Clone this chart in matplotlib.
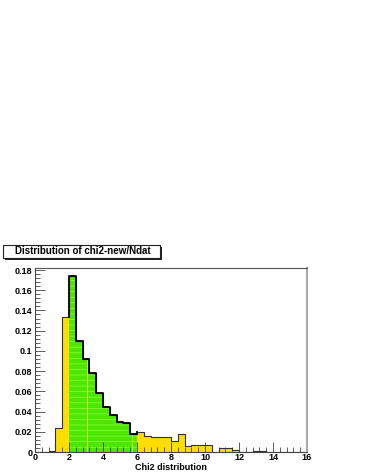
import numpy as np
import matplotlib.pyplot as plt
from matplotlib.ticker import MultipleLocator

plt.rcParams['font.family'] = ['Liberation Sans', 'DejaVu Sans']
plt.rcParams['hatch.linewidth'] = 0.5
plt.rcParams['hatch.color'] = '#8cff3c'

# bin edges 0..16 step 0.4
edges = np.arange(0, 16.01, 0.4)
counts = [0, 0, 0.001, 0.024, 0.134, 0.174, 0.110, 0.092, 0.078, 0.058,
          0.045, 0.037, 0.030, 0.029, 0.018, 0.020, 0.016, 0.0145, 0.015, 0.015,
          0.011, 0.018, 0.006, 0.007, 0.007, 0.007, 0, 0.004, 0.004, 0.0015,
          0, 0.0005, 0.001, 0.001, 0.0005, 0.0005, 0.0005, 0.0005, 0, 0.0005]
green_range = (2.0, 6.0)
mean_lines = [3.05, 5.7]

title = "Distribution of chi2-new/Ndat"
xlabel = "Chi2 distribution"

fig = plt.figure(figsize=(3.68, 4.76), dpi=100)
ax = fig.add_axes([0.0951, 0.0504, 0.7391, 0.3866])

counts = np.array(counts)
left = edges[:-1]
w = np.diff(edges)

# yellow histogram
ax.bar(left, counts, width=w, align='edge', color='#ffdd00', linewidth=0)

# green region with dotted hatch
sel = (left >= green_range[0] - 1e-9) & (left < green_range[1] - 1e-9)
ax.bar(left[sel], counts[sel], width=w[sel], align='edge', color='#4ce600',
       linewidth=0, hatch='---')
for xm in mean_lines:
    i = np.searchsorted(edges, xm) - 1
    ax.plot([xm, xm], [0, counts[i]], color='#d8f040', lw=0.6)

# outline of whole histogram
xs = np.repeat(edges, 2)[1:-1]
ys = np.repeat(counts, 2)
ax.plot(xs, ys, color='#333333', lw=0.8)

# thicker outline on the green part
idx = np.where(sel)[0]
gx = [edges[idx[0]]]
gy = [counts[idx[0] - 1]]
for i in idx:
    gx += [edges[i], edges[i + 1]]
    gy += [counts[i], counts[i]]
gx.append(edges[idx[-1] + 1])
gy.append(counts[idx[-1] + 1])
ax.plot(gx, gy, color='black', lw=1.3)

ax.set_xlim(0, 16)
ax.set_ylim(0, 0.182)

ax.xaxis.set_major_locator(MultipleLocator(2))
ax.xaxis.set_minor_locator(MultipleLocator(0.4))
ax.yaxis.set_major_locator(MultipleLocator(0.02))
ax.yaxis.set_minor_locator(MultipleLocator(0.004))
ax.yaxis.set_major_formatter(plt.FuncFormatter(lambda v, p: ('%g' % round(v, 2))))
ax.tick_params(which='both', direction='in', top=False, right=False,
               labelsize=6.5, colors='#444444', labelcolor='black', width=0.6)
ax.tick_params(which='major', length=7, pad=2)
ax.tick_params(axis='x', which='major', pad=1)
ax.tick_params(which='minor', length=3.5)
for lab in ax.get_xticklabels() + ax.get_yticklabels():
    lab.set_fontweight('bold')

ax.spines['top'].set_color('#555555')
ax.spines['right'].set_color('#aaaaaa')
ax.spines['right'].set_linewidth(1.5)
ax.spines['left'].set_color('#444444')
ax.spines['bottom'].set_color('#444444')

ax.set_xlabel(xlabel, fontsize=6.5, fontweight='bold')
ax.xaxis.set_label_coords(0.5, -0.058)

# title box with shadow
fig.patches.append(plt.Rectangle((5 / 368, 1 - 260 / 476), 157 / 368, 13 / 476,
                                 transform=fig.transFigure, facecolor='#222222',
                                 edgecolor='none'))
fig.patches.append(plt.Rectangle((3 / 368, 1 - 258 / 476), 157 / 368, 13 / 476,
                                 transform=fig.transFigure, facecolor='white',
                                 edgecolor='#222222', linewidth=0.8))
fig.text(83 / 368, 1 - 251.5 / 476, title, ha='center', va='center',
         fontsize=7, fontweight='bold')

fig.savefig('out.png', dpi=100)
